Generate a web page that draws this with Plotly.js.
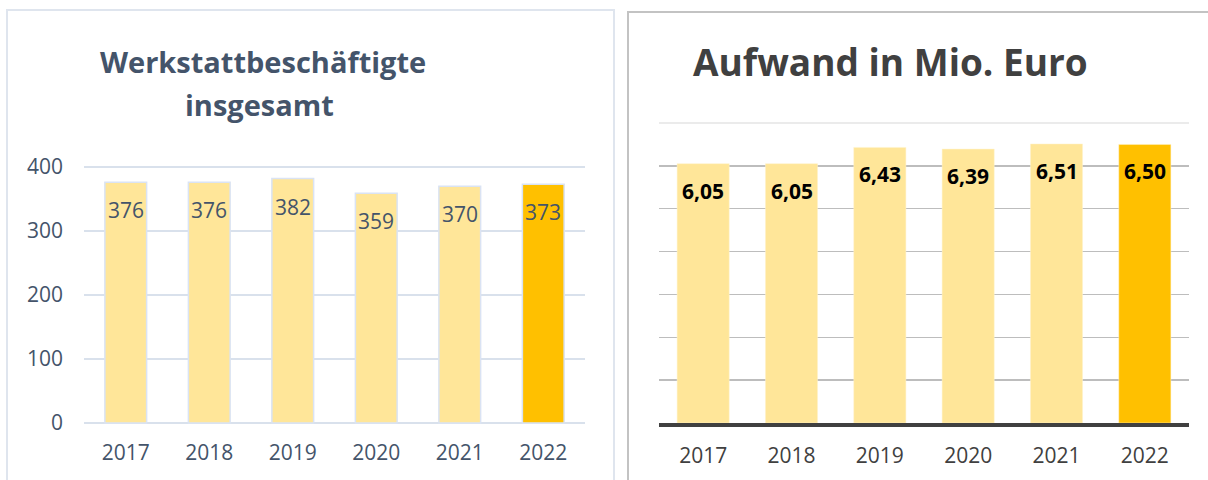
<!DOCTYPE html>
<html>
<head>
<meta charset="utf-8">
<script src="https://cdn.plot.ly/plotly-3.0.1.min.js"></script>
<style>
  html, body { margin: 0; padding: 0; background: #ffffff; }
  #chart { width: 1208px; height: 480px; }
</style>
</head>
<body>
<div id="chart"></div>
<script>
// ---- data ----
const years = ['2017', '2018', '2019', '2020', '2021', '2022'];
const beschaeftigte = [376, 376, 382, 359, 370, 373];
const aufwand = [6.05, 6.05, 6.43, 6.39, 6.51, 6.50];
const aufwandLabels = ['6,05', '6,05', '6,43', '6,39', '6,51', '6,50'];
const leftTickVals = [0, 100, 200, 300, 400];
const titleLeft1 = 'Werkstattbeschäftigte';
const titleLeft2 = 'insgesamt';
const titleRight = 'Aufwand in Mio. Euro';

const W = 1208, H = 480;
const FONT = "'Open Sans', 'Noto Sans', sans-serif";
const light = '#FFE699', strong = '#FFC000';
const barColors = years.map((y, i) => i === years.length - 1 ? strong : light);

const px = v => v / W;
const py = v => 1 - v / H;

const traces = [
  {
    type: 'bar', x: years, y: beschaeftigte, xaxis: 'x', yaxis: 'y',
    marker: { color: barColors, line: { color: '#dae3f3', width: 1.5 } },
    width: 0.5, hoverinfo: 'skip', showlegend: false
  },
  {
    type: 'bar', x: years, y: aufwand, xaxis: 'x2', yaxis: 'y2',
    marker: { color: barColors, line: { color: '#fff2cc', width: 0.5 } },
    width: 0.59, hoverinfo: 'skip', showlegend: false
  }
];

const annotations = [];
// category axes: annotation x given as category index
beschaeftigte.forEach((v, i) => annotations.push({
  xref: 'x', yref: 'y', x: i, y: v, text: String(v),
  showarrow: false, yanchor: 'middle', yshift: -28,
  font: { family: FONT, size: 21, color: '#44546A' }
}));
aufwand.forEach((v, i) => annotations.push({
  xref: 'x2', yref: 'y2', x: i, y: v, text: '<b>' + aufwandLabels[i] + '</b>',
  showarrow: false, yanchor: 'middle', yshift: -27,
  font: { family: FONT, size: 21, color: '#000000' }
}));
annotations.push(
  { xref: 'paper', yref: 'paper', x: px(263), y: py(61), text: '<b>' + titleLeft1 + '</b>',
    showarrow: false, xanchor: 'center', yanchor: 'middle',
    font: { family: FONT, size: 29, color: '#44546A' } },
  { xref: 'paper', yref: 'paper', x: px(259), y: py(104), text: '<b>' + titleLeft2 + '</b>',
    showarrow: false, xanchor: 'center', yanchor: 'middle',
    font: { family: FONT, size: 29, color: '#44546A' } },
  { xref: 'paper', yref: 'paper', x: px(890), y: py(62), text: '<b>' + titleRight + '</b>',
    showarrow: false, xanchor: 'center', yanchor: 'middle',
    font: { family: FONT, size: 37, color: '#404040' } }
);

const layout = {
  width: W, height: H,
  margin: { l: 0, r: 0, t: 0, b: 0 },
  paper_bgcolor: '#ffffff', plot_bgcolor: 'rgba(0,0,0,0)',
  font: { family: FONT },
  showlegend: false,
  xaxis: {
    domain: [px(84), px(585)], anchor: 'y',
    type: 'category', range: [-0.5, years.length - 0.5],
    showgrid: false, zeroline: false, showline: false,
    ticks: '', ticklabelstandoff: 13,
    tickfont: { family: FONT, size: 21, color: '#44546A' }, fixedrange: true
  },
  yaxis: {
    domain: [py(425), py(165)], anchor: 'x',
    range: [-3.125, 403.125], tickvals: leftTickVals,
    showgrid: true, gridcolor: '#d9e1ec', gridwidth: 1.5,
    zeroline: false, showline: false, ticks: '', ticklabelstandoff: 20,
    tickfont: { family: FONT, size: 21, color: '#44546A' }, fixedrange: true
  },
  xaxis2: {
    domain: [px(659), px(1189)], anchor: 'y2',
    type: 'category', range: [-0.5, years.length - 0.5],
    showgrid: false, zeroline: false,
    showline: true, linecolor: '#404040', linewidth: 3.5,
    ticks: '', ticklabelstandoff: 11,
    tickfont: { family: FONT, size: 21, color: '#404040' }, fixedrange: true
  },
  yaxis2: {
    domain: [py(423), py(123)], anchor: 'x2',
    range: [0, 6.999], dtick: 1, showticklabels: false,
    showgrid: true, gridcolor: '#bdbdbd', gridwidth: 1.5,
    zeroline: false, showline: false, ticks: '', fixedrange: true
  },
  shapes: [
    { type: 'rect', xref: 'paper', yref: 'paper', x0: px(7), x1: px(614), y0: -0.05, y1: py(10),
      line: { color: '#dfe5ee', width: 2 }, fillcolor: 'rgba(0,0,0,0)', layer: 'below' },
    { type: 'rect', xref: 'paper', yref: 'paper', x0: px(628), x1: 1.05, y0: -0.05, y1: py(12),
      line: { color: '#c3c3c3', width: 2 }, fillcolor: 'rgba(0,0,0,0)', layer: 'below' },
    { type: 'line', xref: 'x2 domain', yref: 'y2 domain', x0: 0, x1: 1, y0: 1, y1: 1,
      line: { color: '#e4e4e4', width: 1.5 }, layer: 'below' }
  ],
  annotations: annotations
};

Plotly.newPlot('chart', traces, layout, { displayModeBar: false, staticPlot: true });
</script>
</body>
</html>
